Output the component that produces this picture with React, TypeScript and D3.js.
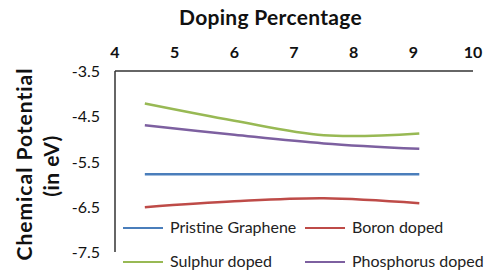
import React from "react";
import * as d3 from "d3";

const dopingX = [4.5, 6, 7.5, 9.1];
const pristine = [-5.78, -5.78, -5.78, -5.78];
const boron = [-6.51, -6.38, -6.31, -6.42];
const sulphur = [-4.22, -4.6, -4.92, -4.88];
const phosphorus = [-4.7, -4.91, -5.1, -5.22];
const xTicks = [4, 5, 6, 7, 8, 9, 10];
const yTicks = [-3.5, -4.5, -5.5, -6.5, -7.5];

const series = [
  { name: "Pristine Graphene", values: pristine, color: "#4a7ebb" },
  { name: "Boron doped", values: boron, color: "#be4b48" },
  { name: "Sulphur doped", values: sulphur, color: "#98b954" },
  { name: "Phosphorus doped", values: phosphorus, color: "#7d60a0" },
];

const W = 489;
const H = 275;
const font = "Lato, 'Open Sans', sans-serif";

export default function App() {
  const x = d3.scaleLinear().domain([4, 10]).range([115, 473]);
  const y = d3.scaleLinear().domain([-3.5, -7.5]).range([71, 252]);

  const line = d3
    .line<number>()
    .x((_, i) => x(dopingX[i]))
    .y((d) => y(d))
    .curve(d3.curveCatmullRom.alpha(0.5));

  const legendPos = [
    { lx: 123, ty: 232 },
    { lx: 305, ty: 232 },
    { lx: 123, ty: 266 },
    { lx: 305, ty: 266 },
  ];

  return (
    <svg
      width={W}
      height={H}
      style={{ position: "absolute", left: 0, top: 0, background: "#fff" }}
      fontFamily={font}
    >
      <text x={270.5} y={25} textAnchor="middle" fontSize={21} letterSpacing={0.3} fontWeight="bold" fill="#111">
        Doping Percentage
      </text>
      {xTicks.map((t) => (
        <text key={t} x={x(t)} y={58} textAnchor="middle" fontSize={16} fontWeight="bold" fill="#111">
          {t}
        </text>
      ))}
      {yTicks.map((t) => (
        <text key={t} x={100} y={y(t) + 6} textAnchor="end" fontSize={16} fill="#111">
          {t}
        </text>
      ))}
      <text
        transform="translate(32,164) rotate(-90)"
        textAnchor="middle"
        fontSize={21}
        letterSpacing={1}
        fontWeight="bold"
        fill="#111"
      >
        Chemical Potential
      </text>
      <text
        transform="translate(59,166) rotate(-90)"
        textAnchor="middle"
        fontSize={21}
        letterSpacing={0.5}
        fontWeight="bold"
        fill="#111"
      >
        (in eV)
      </text>
      <line x1={x(4)} x2={x(10)} y1={y(-3.5)} y2={y(-3.5)} stroke="#333" strokeWidth={1.5} />
      <line x1={x(4)} x2={x(4)} y1={y(-3.5)} y2={y(-7.5)} stroke="#333" strokeWidth={1.5} />
      {series.map((s) => (
        <path key={s.name} d={line(s.values) || ""} fill="none" stroke={s.color} strokeWidth={2.5} />
      ))}
      {series.map((s, i) => (
        <g key={s.name + "-lg"}>
          <line
            x1={legendPos[i].lx}
            x2={legendPos[i].lx + 40}
            y1={legendPos[i].ty - 4}
            y2={legendPos[i].ty - 4}
            stroke={s.color}
            strokeWidth={2}
          />
          <text x={legendPos[i].lx + 47} y={legendPos[i].ty + 1} fontSize={16} fill="#222">
            {s.name}
          </text>
        </g>
      ))}
    </svg>
  );
}
